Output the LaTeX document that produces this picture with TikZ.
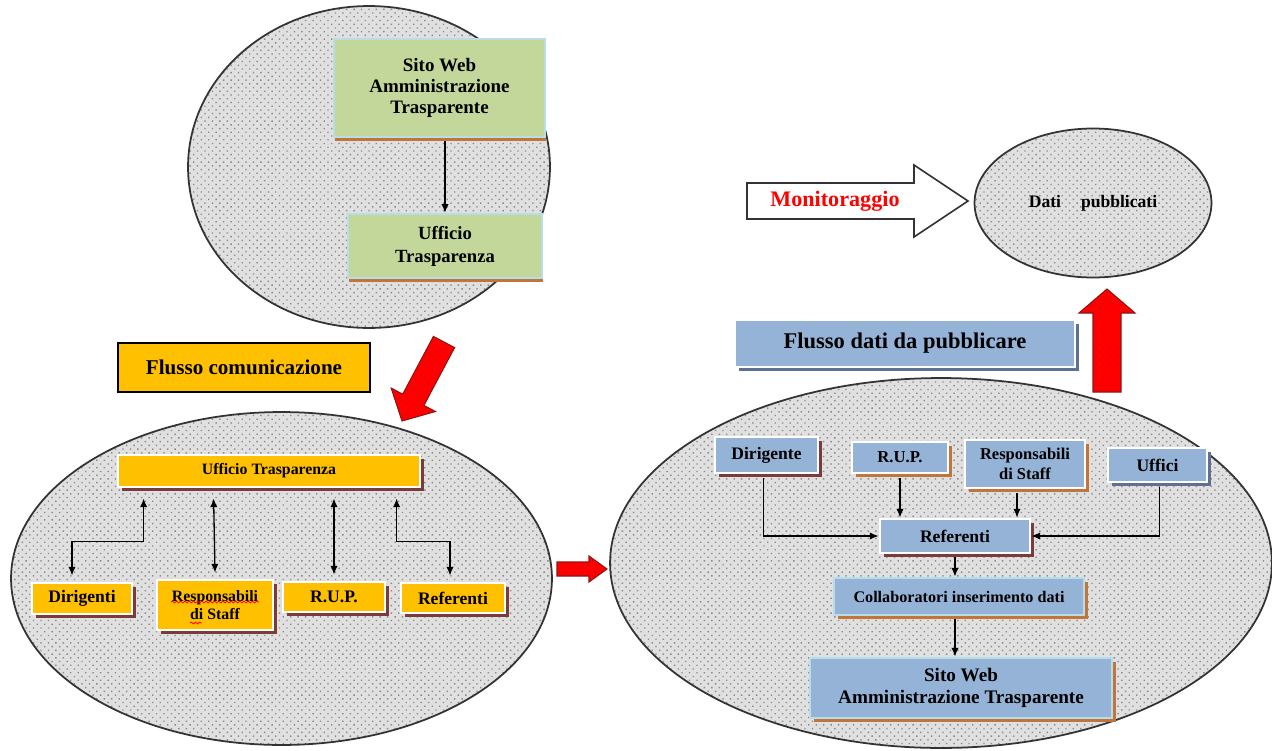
\documentclass[tikz,border=0pt]{standalone}
\usepackage{fontspec}
\setmainfont{Liberation Serif}
\usetikzlibrary{shapes.geometric,shadows,patterns.meta,calc,arrows.meta,decorations.pathmorphing}

\definecolor{ovalfill}{HTML}{E0E0E0}
\definecolor{ovaldot}{HTML}{8A8A8A}
\definecolor{ovalline}{HTML}{333333}
\definecolor{olivebox}{HTML}{C4D79B}
\definecolor{aquaedge}{HTML}{B7DEE8}
\definecolor{amber}{HTML}{FFC000}
\definecolor{steel}{HTML}{95B3D7}
\definecolor{rustline}{HTML}{C0763A}
\definecolor{maroonline}{HTML}{7B3B3B}
\definecolor{slateline}{HTML}{5F7190}
\definecolor{arrowred}{HTML}{FF0000}
\definecolor{arrowedge}{HTML}{8E1414}
\definecolor{arrowdot}{HTML}{C80A0A}

\newcommand{\fsz}[2]{\fontsize{#1}{#2}\selectfont}

\tikzset{
  oval/.style={ellipse, inner sep=0pt, draw=ovalline, line width=1pt,
    preaction={fill=ovalfill},
    pattern={Dots[distance=3pt,radius=0.55pt,angle=45]}, pattern color=ovaldot},
  card/.style={rectangle, inner sep=1pt, align=center, text=black},
  greencard/.style={card, fill=olivebox, draw=aquaedge, line width=1.3pt,
    drop shadow={shadow xshift=0.5pt, shadow yshift=-2.2pt, fill=rustline, opacity=1}},
  ambercard/.style={card, fill=amber, draw=white, line width=1.6pt,
    drop shadow={shadow xshift=2.2pt, shadow yshift=-2.2pt, fill=#1, opacity=1}},
  ambercard/.default=maroonline,
  steelcard/.style={card, fill=steel, draw=white, line width=1.6pt,
    drop shadow={shadow xshift=2.2pt, shadow yshift=-2.2pt, fill=#1, opacity=1}},
  steelcard/.default=maroonline,
  aquacard/.style={card, fill=steel, draw=aquaedge, line width=1.6pt,
    drop shadow={shadow xshift=2.2pt, shadow yshift=-2.2pt, fill=rustline, opacity=1}},
  link/.style={draw=black, line width=0.75pt, -{Latex[length=5pt,width=4.2pt]}},
  duallink/.style={draw=black, line width=0.75pt, {Latex[length=5pt,width=4.2pt]}-{Latex[length=5pt,width=4.2pt]}},
  redblock/.style={draw=arrowedge, line width=0.6pt, preaction={fill=arrowred},
    pattern={Dots[distance=3pt,radius=0.4pt,angle=45]}, pattern color=arrowdot},
  whiteblock/.style={draw=ovalline, line width=0.9pt, fill=white},
}

\begin{document}
\begin{tikzpicture}[x=0.02cm, y=-0.02cm]
  \useasboundingbox (0,0) rectangle (1272,751);
  \fill[white] (0,0) rectangle (1272,751);

  % ---------- containers ----------
  \node[oval, minimum width=7.24cm, minimum height=6.44cm] (topoval) at (369,167) {};
  \node[oval, minimum width=10.82cm, minimum height=6.66cm] (leftoval) at (281.5,578.5) {};
  \node[oval, minimum width=13.24cm, minimum height=7.40cm] (rightoval) at (941,563) {};
  \node[oval, minimum width=4.74cm, minimum height=2.98cm,
        font=\bfseries\fsz{10}{12}] (datoval) at (1093,203) {Dati\hspace{0.4cm}pubblicati};

  % ---------- website and office (top) ----------
  \node[greencard, minimum width=4.22cm, minimum height=1.96cm,
        font=\bfseries\fsz{10.8}{12}] (sw1) at (439.5,88) {Sito Web\\Amministrazione\\Trasparente};
  \node[greencard, minimum width=3.88cm, minimum height=1.28cm,
        font=\bfseries\fsz{10.6}{13}] (ut1) at (445,246) {Ufficio\\Trasparenza};
  \draw[link] (ut1.north |- sw1.south) ++(0,3) -- (ut1.north);

  % ---------- communication flow (bottom left) ----------
  \node[card, fill=amber, draw=black, line width=0.8pt, minimum width=5.04cm, minimum height=0.98cm,
        font=\bfseries\fsz{12}{14}] (flc) at (244,367.5) {Flusso comunicazione};
  \node[ambercard, minimum width=6.04cm, minimum height=0.64cm,
        font=\bfseries\fsz{9}{11}] (ut2) at (269,471) {Ufficio Trasparenza};
  \node[ambercard, minimum width=2.0cm, minimum height=0.62cm,
        font=\bfseries\fsz{10}{12}] (dir) at (82,598.5) {Dirigenti};
  \node[ambercard, minimum width=2.32cm, minimum height=1.0cm,
        font=\bfseries\fsz{9}{10.5}] (rds) at (215,605) {Responsabili\\di Staff};
  \node[ambercard, minimum width=2.04cm, minimum height=0.6cm,
        font=\bfseries\fsz{10}{12}] (rup) at (334,597) {R.U.P.};
  \node[ambercard, minimum width=2.08cm, minimum height=0.6cm,
        font=\bfseries\fsz{10}{12}] (ref) at (453,598) {Referenti};

  % spell-check squiggles under the staff label
  \draw[red, line width=0.45pt, decorate, decoration={snake, amplitude=0.5pt, segment length=2.4pt}]
    ($(rds.center)+(-44,-3)$) -- ($(rds.center)+(44,-3)$);
  \draw[red, line width=0.45pt, decorate, decoration={snake, amplitude=0.5pt, segment length=2.4pt}]
    ($(rds.center)+(-25,18)$) -- ($(rds.center)+(-13,18)$);

  \draw[duallink] ($(ut2.south west)+(27,10)$) -- ++(0,43) -| ($(dir.north)+(-10,-6)$);
  \draw[duallink] ($(ut2.south west)+(97,10)$) -- ($(rds.north)+(0,-6)$);
  \draw[duallink] ($(rup.north |- ut2.south)+(0,10)$) -- ($(rup.north)+(0,-6)$);
  \draw[duallink] ($(ut2.south west)+(280,10)$) -- ++(0,43) -| ($(ref.north)+(-3,-6)$);

  % ---------- data flow (bottom right) ----------
  \node[steelcard=slateline, minimum width=6.8cm, minimum height=0.94cm,
        font=\bfseries\fsz{12.8}{15}] (fdp) at (905,343.5) {Flusso dati da pubblicare};
  \node[steelcard, minimum width=2.06cm, minimum height=0.72cm,
        font=\bfseries\fsz{10}{12}] (dirg) at (766.5,455) {Dirigente};
  \node[steelcard=rustline, minimum width=1.92cm, minimum height=0.62cm,
        font=\bfseries\fsz{9.5}{11}] (rup2) at (900,457.5) {R.U.P.};
  \node[steelcard=rustline, minimum width=2.4cm, minimum height=0.96cm,
        font=\bfseries\fsz{9.4}{11}] (rds2) at (1025,464) {Responsabili\\di Staff};
  \node[steelcard=slateline, minimum width=1.98cm, minimum height=0.68cm,
        font=\bfseries\fsz{10}{12}] (uff) at (1157.5,465) {Uffici};
  \node[steelcard, minimum width=3.0cm, minimum height=0.68cm,
        font=\bfseries\fsz{10}{12}] (refb) at (955,536) {Referenti};
  \node[aquacard, minimum width=5.0cm, minimum height=0.74cm,
        font=\bfseries\fsz{9.2}{11}] (coll) at (959,596.5) {Collaboratori inserimento dati};
  \node[aquacard, minimum width=6.04cm, minimum height=1.2cm,
        font=\bfseries\fsz{10.9}{12.5}] (swb) at (961,688) {Sito Web\\Amministrazione Trasparente};

  \draw[link] ($(dirg.south)+(-3,4)$) |- (refb.west);
  \draw[link] ($(rup2.south)+(0,4)$) -- (rup2.south |- refb.north);
  \draw[link] ($(rds2.south)+(-8,4)$) -- ($(rds2.south |- refb.north)+(-8,0)$);
  \draw[link] ($(uff.south)+(2,4)$) |- (refb.east);
  \draw[link] ($(refb.south)+(0,3)$) -- (refb.south |- coll.north);
  \draw[link] ($(coll.south -| refb.south)+(0,3)$) -- (refb.south |- swb.north);

  % ---------- block arrows ----------
  % office flows down into the communication oval
  \draw[redblock] (454.6,347.6) -- (423.9,405.4) -- (435.4,411.5) -- (402,421)
    -- (391.2,388.1) -- (402.7,394.2) -- (433.4,336.4) -- cycle;
  % communication oval feeds the data oval
  \draw[redblock] (557,562) -- (589,562) -- (589,556) -- (607,569)
    -- (589,582) -- (589,576) -- (557,576) -- cycle;
  % data oval publishes upwards
  \draw[redblock] (1093,392) -- (1093,313) -- (1079,313) -- (1107,289)
    -- (1135,313) -- (1121,313) -- (1121,392) -- cycle;
  % monitoring arrow
  \draw[whiteblock] (747,183) -- (914,183) -- (914,165) -- (968,201)
    -- (914,237) -- (914,219) -- (747,219) -- cycle;
  \node[font=\bfseries\fsz{12.6}{14}, text=arrowred] (mon) at (835,201) {Monitoraggio};
\end{tikzpicture}
\end{document}
